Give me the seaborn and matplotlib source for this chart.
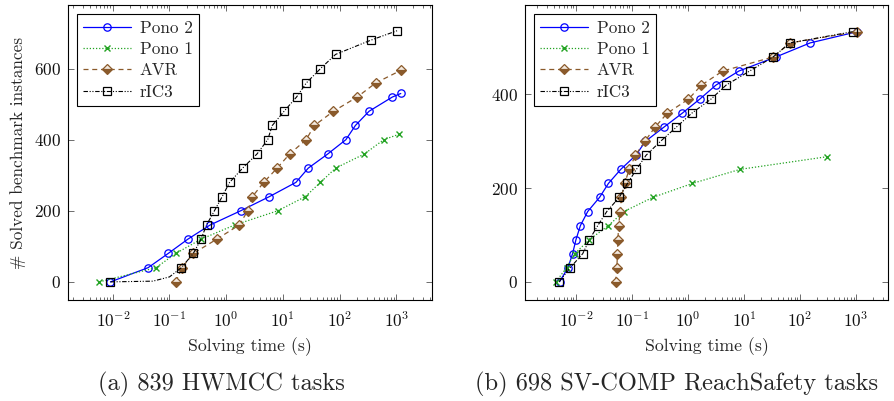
import numpy as np
import pandas as pd
import matplotlib
matplotlib.use("Agg")
import matplotlib.pyplot as plt
from matplotlib.ticker import NullFormatter, FixedLocator
import seaborn as sns

# ---------------- data ----------------
# Panel (a): HWMCC
a_pono2_t = [0.0091, 0.042, 0.095, 0.21, 0.52, 1.8, 5.8, 17, 28, 62, 129, 190, 331, 851, 1200]
a_pono2_n = [0, 40, 80, 120, 160, 200, 240, 280, 320, 360, 400, 440, 480, 520, 530]
a_pono1_t = [0.0058, 0.058, 0.129, 0.36, 1.41, 8.1, 25, 46, 85, 275, 600, 1100]
a_pono1_n = [0, 40, 80, 120, 160, 200, 240, 280, 320, 360, 400, 415]
a_avr_t = [0.129, 0.166, 0.263, 0.68, 1.70, 2.4, 2.9, 4.6, 7.9, 13.2, 25.7, 36, 78, 204, 437, 1200]
a_avr_n = [0, 40, 80, 120, 160, 200, 240, 280, 320, 360, 400, 440, 480, 520, 560, 595]
a_ric3_t = [0.0091, 0.051, 0.10, 0.162, 0.263, 0.36, 0.45, 0.62, 0.85, 1.15, 1.95, 3.5, 5.4,
            6.5, 10.5, 17.4, 26, 46, 85, 355, 1050]
a_ric3_n = [0, 2, 14, 40, 80, 120, 160, 200, 240, 280, 320, 360, 400, 440, 480, 520, 560,
            600, 640, 680, 707]

# Panel (b): SV-COMP ReachSafety
b_pono2_t = [0.0051, 0.0072, 0.0087, 0.010, 0.012, 0.0162, 0.0263, 0.038, 0.063, 0.117,
             0.174, 0.37, 0.79, 1.62, 3.16, 8.1, 37, 151, 1050]
b_pono2_n = [0, 30, 60, 90, 120, 150, 180, 210, 240, 270, 300, 330, 360, 390, 420, 450,
             480, 510, 534]
b_pono1_t = [0.0044, 0.0068, 0.0095, 0.0174, 0.038, 0.072, 0.234, 1.2, 8.5, 302]
b_pono1_n = [0, 30, 60, 90, 120, 150, 180, 210, 240, 267]
b_avr_t = [0.051, 0.0537, 0.055, 0.0562, 0.0575, 0.0617, 0.0646, 0.0741, 0.0891, 0.115,
           0.17, 0.257, 0.427, 1.02, 1.74, 4.17, 33, 66, 1050]
b_avr_n = [0, 30, 60, 90, 120, 150, 180, 210, 240, 270, 300, 330, 360, 390, 420, 450,
           480, 510, 534]
b_ric3_t = [0.005, 0.0079, 0.0132, 0.0174, 0.0245, 0.0355, 0.059, 0.083, 0.12, 0.178,
            0.324, 0.617, 1.17, 2.57, 4.8, 12.6, 33, 66, 870]
b_ric3_n = [0, 30, 60, 90, 120, 150, 180, 210, 240, 270, 300, 330, 360, 390, 420, 450,
            480, 510, 534]

labels = ["Pono 2", "Pono 1", "AVR", "rIC3"]
x_decades = [1e-2, 1e-1, 1e0, 1e1, 1e2, 1e3]
a_yticks = [0, 200, 400, 600]
b_yticks = [0, 200, 400]
captions = ["(a) 839 HWMCC tasks", "(b) 698 SV-COMP ReachSafety tasks"]

# ---------------- style ----------------
sns.set_theme(style="ticks")
plt.rcParams.update({
    "font.family": "serif",
    "font.serif": ["cmr10", "DejaVu Serif"],
    "mathtext.fontset": "cm",
    "axes.formatter.use_mathtext": True,
    "axes.unicode_minus": False,
    "axes.edgecolor": "#000000",
    "axes.linewidth": 0.8,
    "xtick.color": "#555555",
    "ytick.color": "#555555",
    "xtick.labelcolor": "#111111",
    "ytick.labelcolor": "#111111",
})

BLUE = "#0000ff"
GREEN = "#22a322"
BROWN = "#8a5a2b"
BLACK = "#000000"

styles = [
    dict(color=BLUE, linestyle="-", marker="o", markersize=5.3, markerfacecolor="none",
         markeredgecolor=BLUE, markeredgewidth=0.9, linewidth=0.9),
    dict(color=GREEN, linestyle=(0, (1, 1.5)), marker="x", markersize=4.5,
         markeredgecolor=GREEN, markeredgewidth=1.0, linewidth=0.9),
    dict(color=BROWN, linestyle=(0, (4, 3)), marker="D", markersize=4.8, fillstyle="bottom",
         markerfacecolor=BROWN, markerfacecoloralt="#f3e9df", markeredgecolor=BROWN,
         markeredgewidth=0.9, linewidth=0.9),
    dict(color=BLACK, linestyle=(0, (4, 1.5, 1, 1.5, 1, 1.5)), marker="s", markersize=5.2,
         markerfacecolor="none", markeredgecolor=BLACK, markeredgewidth=0.9, linewidth=0.8),
]

fig = plt.figure(figsize=(8.94, 4.01), dpi=100)
W, H = 894, 401
ax_a = fig.add_axes([68 / W, 1 - 300 / H, (432 - 68) / W, 295 / H])
ax_b = fig.add_axes([525 / W, 1 - 300 / H, (888 - 525) / W, 295 / H])

panels = [
    (ax_a, [(a_pono2_t, a_pono2_n), (a_pono1_t, a_pono1_n), (a_avr_t, a_avr_n), (a_ric3_t, a_ric3_n)],
     a_yticks, (10 ** -2.79, 10 ** 3.63), (-51, 779)),
    (ax_b, [(b_pono2_t, b_pono2_n), (b_pono1_t, b_pono1_n), (b_avr_t, b_avr_n), (b_ric3_t, b_ric3_n)],
     b_yticks, (10 ** -2.91, 10 ** 3.57), (-39, 591)),
]

FS = 12.3
for idx, (ax, series, yticks, xlim, ylim) in enumerate(panels):
    for (t, n), lab, st in zip(series, labels, styles):
        df = pd.DataFrame({"t": t, "n": n})
        marks = [i for i, v in enumerate(n) if (v % 30 == 0 if idx == 1 else v % 40 == 0) or i == len(n) - 1]
        sns.lineplot(data=df, x="t", y="n", ax=ax, label=lab, estimator=None, sort=False,
                     markevery=marks, **st)
    ax.set_xscale("log")
    ax.set_xlim(*xlim)
    ax.set_ylim(*ylim)
    ax.xaxis.set_major_locator(FixedLocator(x_decades))
    lo, hi = np.log10(xlim[0]), np.log10(xlim[1])
    minors = [m * 10.0 ** d for d in range(int(np.floor(lo)), int(np.ceil(hi)) + 1)
              for m in range(2, 10) if lo <= np.log10(m * 10.0 ** d) <= hi]
    ax.xaxis.set_minor_locator(FixedLocator(minors))
    ax.xaxis.set_minor_formatter(NullFormatter())
    ax.yaxis.set_major_locator(FixedLocator(yticks))
    ax.tick_params(axis="both", which="both", direction="in", top=True, right=True,
                   labelsize=FS, width=0.6)
    ax.tick_params(axis="x", which="major", length=4, pad=8)
    ax.tick_params(axis="y", which="major", length=4, pad=5)
    ax.tick_params(axis="both", which="minor", length=2)
    ax.set_xlabel("Solving time (s)", fontsize=12.8, labelpad=5)
    if idx == 0:
        ax.set_ylabel("# Solved benchmark instances", fontsize=12.4, labelpad=6)
    else:
        ax.set_ylabel("")
    leg = ax.legend(loc="upper left", fontsize=FS, frameon=True, fancybox=False,
                    edgecolor="black", framealpha=1, handlelength=2.8, borderpad=0.35,
                    labelspacing=0.35, handletextpad=0.5, borderaxespad=0.55)
    leg.get_frame().set_linewidth(0.8)
    for sp in ax.spines.values():
        sp.set_visible(True)
        sp.set_color("black")

# captions: size chosen so that each spans the width it has in the reference
cap_specs = [(captions[0], 221.5, 247), (captions[1], 676.5, 403)]
renderer = fig.canvas.get_renderer()
for text, cx, target_w in cap_specs:
    t = fig.text(cx / W, 1 - 384 / H, text, ha="center", va="center", fontsize=18)
    w = t.get_window_extent(renderer=renderer).width
    t.set_fontsize(18 * target_w / w)

fig.savefig("out.png", dpi=100)
